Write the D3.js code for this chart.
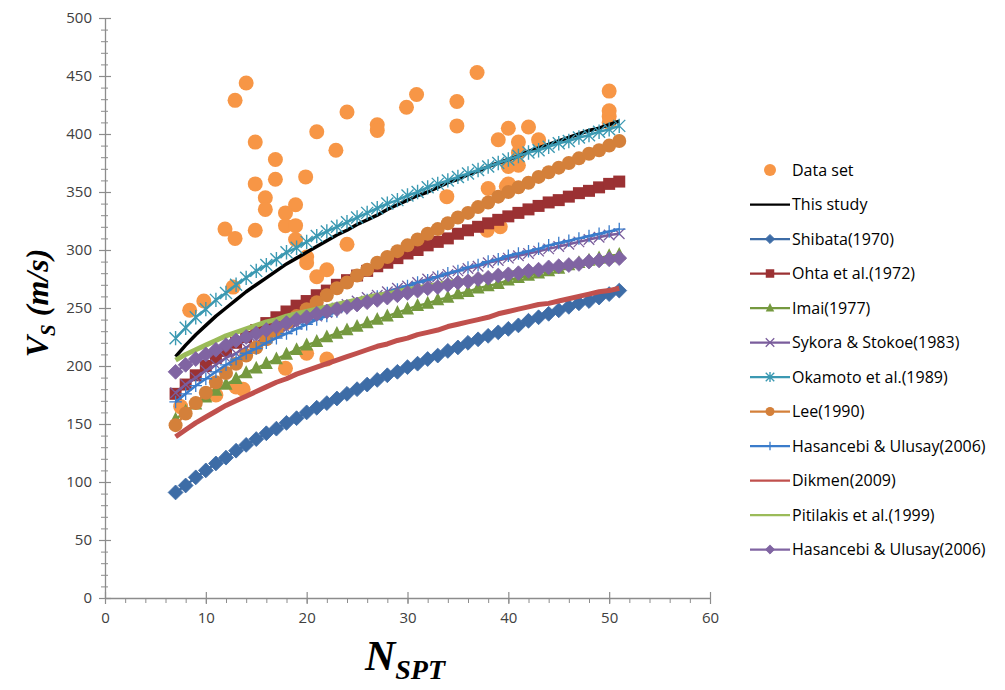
<!DOCTYPE html>
<html>
<head>
<meta charset="utf-8">
<script src="https://cdn.jsdelivr.net/npm/d3@7"></script>
<style>
  body { margin: 0; background: #ffffff; }
  svg { display: block; }
</style>
</head>
<body>
<svg id="chart" width="1005" height="690"></svg>
<script>
// ---------- data ----------
const nValues = [7,8,9,10,11,12,13,14,15,16,17,18,19,20,21,22,23,24,25,26,27,28,29,30,31,32,33,34,35,36,37,38,39,40,41,42,43,44,45,46,47,48,49,50,51];

const thisStudy = [208,218,227,235,243,250,257,264,270,276,282,288,293,298,303,308,313,317,322,326,330,335,339,343,347,350,354,358,361,365,368,372,375,378,381,385,388,391,394,397,400,403,405,408,411];
const shibata = [91,97,104,110,116,121,127,132,137,142,146,151,155,160,164,168,172,176,180,184,188,192,195,199,202,206,209,213,216,220,223,226,229,232,235,239,242,245,248,251,254,256,259,262,265];
const ohta = [176,184,192,200,207,213,220,225,231,237,242,247,252,256,261,265,270,274,278,282,286,289,293,297,300,304,307,310,314,317,320,323,326,329,332,335,338,341,343,346,349,351,354,357,359];
const imai = [154,161,167,173,179,184,189,194,198,202,206,210,214,218,221,225,228,231,234,237,240,243,246,249,252,254,257,259,262,264,267,269,271,274,276,278,280,282,284,287,289,291,293,295,296];
const sykora = [177,184,190,196,201,207,211,216,220,225,229,232,236,240,243,246,250,253,256,259,261,264,267,269,272,275,277,279,282,284,286,289,291,293,295,297,299,301,303,305,307,309,311,313,314];
const okamoto = [224,233,242,249,257,263,270,276,282,287,292,298,302,307,312,316,320,324,328,332,336,340,343,347,350,354,357,360,363,366,369,372,375,378,381,384,386,389,392,394,397,399,402,404,407];
const lee = [149,159,168,177,186,194,202,209,216,223,230,237,243,249,255,261,267,272,278,283,289,294,299,304,309,314,318,323,328,332,337,341,346,350,354,358,363,367,371,375,379,383,386,390,394];
const hasancebiBlue = [169,176,183,189,195,201,206,211,215,220,224,228,232,236,240,243,247,250,254,257,260,263,266,269,272,274,277,280,282,285,287,290,292,295,297,299,301,304,306,308,310,312,314,316,318];
const dikmen = [139,145,151,156,161,166,170,174,178,182,186,189,193,196,199,202,205,208,211,214,217,219,222,224,227,229,231,234,236,238,240,242,245,247,249,251,253,254,256,258,260,262,264,265,267];
const pitilakis = [205,210,214,218,222,226,229,232,235,238,240,243,245,247,249,251,253,255,257,259,261,262,264,266,267,269,270,272,273,274,276,277,278,280,281,282,283,284,286,287,288,289,290,291,292];
const hasancebiPurple = [195,201,206,210,214,218,222,225,228,231,234,237,240,242,245,247,249,251,253,255,257,259,261,263,265,267,268,270,272,273,275,276,278,279,280,282,283,285,286,287,288,290,291,292,293];

const dataN  = [14,12.9,24,21,14.9,22.9,16.9,16.9,19.9,14.9,15.9,15.9,18.9,17.9,17.9,18.9,11.9,14.9,12.9,24,18.9,20,20,22,21,8.4,9.8,12.7,17.9,22,20,13.7,7.5,36.9,50,30.9,29.9,34.9,34.9,27,27,50,50,50,40,42,39,41,43,41,40,41,40,38,33.9,39.2,37.9,39.8,11,13];
const dataVs = [444,429,419,402,393,386,378,361,363,357,345,335,339,332,321,321,318,317,310,305,309,294,289,283,277,248,256,268,198,206,211,180,165,453,437,434,423,428,407,408,403,420,415,410,405,406,395,393,395,384,372,373,357,353,346,320,317,355,175,182];

const seriesNames = ["Data set","This study","Shibata(1970)","Ohta et al.(1972)","Imai(1977)","Sykora & Stokoe(1983)","Okamoto et al.(1989)","Lee(1990)","Hasancebi & Ulusay(2006)","Dikmen(2009)","Pitilakis et al.(1999)","Hasancebi & Ulusay(2006)"];
const xTicks = [0,10,20,30,40,50,60];
const yTicks = [0,50,100,150,200,250,300,350,400,450,500];

// ---------- setup ----------
const svg = d3.select("#chart");
const x = d3.scaleLinear().domain([0, 60]).range([105, 710]);
const y = d3.scaleLinear().domain([0, 500]).range([598, 18]);
const axisColor = "#8c8c8c";
const labelFont = "'Open Sans', 'Liberation Sans', sans-serif";

// axes
const yAxisMinor = d3.axisLeft(y).tickValues(d3.range(0, 501, 10)).tickSize(4).tickFormat("");
const gyMinor = svg.append("g").attr("transform", `translate(${x(0)},0)`).call(yAxisMinor);
gyMinor.select(".domain").remove();
gyMinor.selectAll("line").attr("stroke", axisColor).attr("x2", -4).attr("x1", 3);

const yAxis = d3.axisLeft(y).tickValues(yTicks).tickSize(0).tickPadding(13);
const gy = svg.append("g").attr("transform", `translate(${x(0)},0)`).call(yAxis);
gy.select(".domain").attr("stroke", axisColor).attr("stroke-width", 1.3);
gy.selectAll("text").attr("font-family", labelFont).attr("font-size", 15).attr("fill", "#404040");
gy.selectAll(".tick").append("line").attr("x1", -6).attr("x2", 6).attr("stroke", axisColor).attr("stroke-width", 1.2);

const xAxisMinor = d3.axisBottom(x).tickValues(d3.range(0, 61, 2)).tickSize(5).tickFormat("");
const gxMinor = svg.append("g").attr("transform", `translate(0,${y(0)})`).call(xAxisMinor);
gxMinor.select(".domain").remove();
gxMinor.selectAll("line").attr("stroke", axisColor);

const xAxis = d3.axisBottom(x).tickValues(xTicks).tickSize(0).tickPadding(14);
const gx = svg.append("g").attr("transform", `translate(0,${y(0)})`).call(xAxis);
gx.select(".domain").attr("stroke", axisColor).attr("stroke-width", 1.3);
gx.selectAll("text").attr("font-family", labelFont).attr("font-size", 15).attr("fill", "#404040");
gx.selectAll(".tick").append("line").attr("y1", -6).attr("y2", 6).attr("stroke", axisColor).attr("stroke-width", 1.2);

// axis titles
const yt = svg.append("text")
  .attr("transform", "translate(48,303) rotate(-90)")
  .attr("text-anchor", "middle")
  .attr("font-family", "'Liberation Serif', 'DejaVu Serif', serif")
  .attr("font-weight", "bold").attr("font-style", "italic")
  .attr("font-size", 32).attr("fill", "#000");
yt.append("tspan").text("V");
yt.append("tspan").attr("font-size", 21).attr("dy", 7).text("S");
yt.append("tspan").attr("dy", -7).text(" (m/s)");

const xt = svg.append("text")
  .attr("x", 405).attr("y", 670)
  .attr("text-anchor", "middle")
  .attr("font-family", "'Liberation Serif', 'DejaVu Serif', serif")
  .attr("font-weight", "bold").attr("font-style", "italic")
  .attr("font-size", 42).attr("fill", "#000");
xt.append("tspan").text("N");
xt.append("tspan").attr("font-size", 28).attr("dy", 9).text("SPT");

// ---------- marker drawing ----------
function drawMarker(g, type, cx, cy, color, s) {
  if (type === "diamond") {
    g.append("path").attr("d", d3.symbol(d3.symbolSquare, s * s)())
      .attr("transform", `translate(${cx},${cy}) rotate(45)`).attr("fill", color).attr("stroke", color).attr("stroke-width", 0.8);
  } else if (type === "square") {
    g.append("path").attr("d", d3.symbol(d3.symbolSquare, s * s)())
      .attr("transform", `translate(${cx},${cy})`).attr("fill", color);
  } else if (type === "triangle") {
    const h = s * 0.9;
    g.append("path").attr("d", `M${cx},${cy - h * 0.65}L${cx + s / 2},${cy + h * 0.45}L${cx - s / 2},${cy + h * 0.45}Z`).attr("fill", color);
  } else if (type === "circle") {
    g.append("circle").attr("cx", cx).attr("cy", cy).attr("r", s / 2).attr("fill", color);
  } else if (type === "x") {
    const r = s / 2;
    g.append("path").attr("d", `M${cx - r},${cy - r}L${cx + r},${cy + r}M${cx - r},${cy + r}L${cx + r},${cy - r}`)
      .attr("stroke", color).attr("stroke-width", 1.3).attr("fill", "none");
  } else if (type === "plus") {
    const r = s / 2;
    g.append("path").attr("d", `M${cx - r},${cy}L${cx + r},${cy}M${cx},${cy - r}L${cx},${cy + r}`)
      .attr("stroke", color).attr("stroke-width", 1.3).attr("fill", "none");
  } else if (type === "star") {
    const r = s / 2;
    g.append("path").attr("d", `M${cx - r},${cy - r}L${cx + r},${cy + r}M${cx - r},${cy + r}L${cx + r},${cy - r}M${cx},${cy - r * 1.2}L${cx},${cy + r * 1.2}`)
      .attr("stroke", color).attr("stroke-width", 1.4).attr("fill", "none");
  }
}

const line = d3.line().x(d => x(d[0])).y(d => y(d[1]));

const curves = [
  { name: seriesNames[1], vals: thisStudy, color: "#000000", lw: 3.5, marker: null },
  { name: seriesNames[2], vals: shibata, color: "#3d6ca6", lw: 2.5, marker: "diamond", ms: 10.5 },
  { name: seriesNames[3], vals: ohta, color: "#9b3133", lw: 2.5, marker: "square", ms: 12 },
  { name: seriesNames[4], vals: imai, color: "#75993f", lw: 2.5, marker: "triangle", ms: 13 },
  { name: seriesNames[5], vals: sykora, color: "#7a5d9c", lw: 2.5, marker: "x", ms: 10.5 },
  { name: seriesNames[6], vals: okamoto, color: "#3b99b2", lw: 2.5, marker: "star", ms: 12 },
  { name: seriesNames[7], vals: lee, color: "#d4803a", lw: 2.5, marker: "circle", ms: 14 },
  { name: seriesNames[8], vals: hasancebiBlue, color: "#3a7ccb", lw: 2.5, marker: "plus", ms: 12.5 },
  { name: seriesNames[9], vals: dikmen, color: "#c0504d", lw: 5, marker: null },
  { name: seriesNames[10], vals: pitilakis, color: "#9bbb59", lw: 5, marker: null },
  { name: seriesNames[11], vals: hasancebiPurple, color: "#8064a2", lw: 2.5, marker: "diamond", ms: 10.5 }
];

const plot = svg.append("g");

// data set (drawn first, underneath)
plot.append("g").selectAll("circle").data(dataN.map((n, i) => [n, dataVs[i]]))
  .join("circle").attr("cx", d => x(d[0])).attr("cy", d => y(d[1])).attr("r", 7.5).attr("fill", "#f79646");

curves.forEach(c => {
  const pts = nValues.map((n, i) => [n, c.vals[i]]);
  const g = plot.append("g");
  g.append("path").datum(pts).attr("d", line).attr("fill", "none").attr("stroke", c.color).attr("stroke-width", c.lw).attr("stroke-linejoin", "round");
  if (c.marker) pts.forEach(p => drawMarker(g, c.marker, x(p[0]), y(p[1]), c.color, c.ms));
});

// ---------- legend ----------
const legend = svg.append("g");
const legY0 = 170, legStep = 34.5;
seriesNames.forEach((name, i) => {
  const ly = legY0 + i * legStep;
  const g = legend.append("g");
  if (i === 0) {
    g.append("circle").attr("cx", 770).attr("cy", ly).attr("r", 6).attr("fill", "#f79646");
  } else {
    const c = curves[i - 1];
    g.append("line").attr("x1", 750).attr("x2", 790).attr("y1", ly).attr("y2", ly).attr("stroke", c.color).attr("stroke-width", 2.25);
    if (c.marker) drawMarker(g, c.marker, 770, ly, c.color, c.marker === "circle" ? 9 : (c.marker === "diamond" ? 6.5 : 8.5));
  }
  g.append("text").attr("x", 792).attr("y", ly).attr("dy", "0.35em")
    .attr("font-family", labelFont).attr("font-size", 16).attr("fill", "#000").text(name);
});
</script>
</body>
</html>
